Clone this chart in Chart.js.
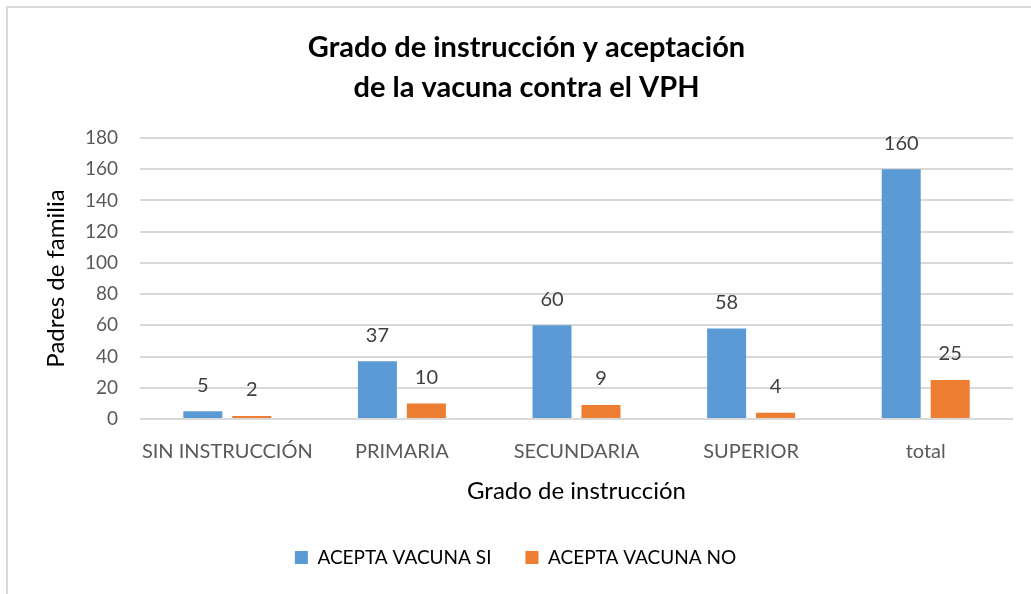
<!DOCTYPE html>
<html>
<head>
<meta charset="utf-8">
<script src="https://cdn.jsdelivr.net/npm/chart.js@4.4.1/dist/chart.umd.min.js"></script>
<style>
  html, body { margin: 0; padding: 0; background: #fff; }
  #wrap { position: relative; width: 1031px; height: 594px; overflow: hidden; }
  #frame { position: absolute; left: 6px; top: 6px; width: 1100px; height: 700px; border: 2px solid #d9d9d9; box-sizing: border-box; }
  #chart { position: absolute; left: 0; top: 0; }
</style>
</head>
<body>
<div id="wrap">
  <div id="frame"></div>
  <canvas id="chart" width="1031" height="594"></canvas>
</div>
<script>
// datos del gráfico
const categorias = ["SIN INSTRUCCIÓN", "PRIMARIA", "SECUNDARIA", "SUPERIOR", "total"];
const aceptaSi = [5, 37, 60, 58, 160];
const aceptaNo = [2, 10, 9, 4, 25];
const ticksY = [0, 20, 40, 60, 80, 100, 120, 140, 160, 180];

const FUENTE = "Lato, 'Open Sans', sans-serif";

// etiquetas de valor encima de cada barra
const etiquetasBarras = {
    id: "etiquetasBarras",
    afterDatasetsDraw(chart) {
        const ctx = chart.ctx;
        ctx.save();
        ctx.font = "20px " + FUENTE;
        ctx.fillStyle = "#404040";
        ctx.textAlign = "center";
        ctx.textBaseline = "middle";
        chart.data.datasets.forEach((ds, i) => {
            chart.getDatasetMeta(i).data.forEach((bar, j) => {
                ctx.fillText(String(ds.data[j]), bar.x, bar.y - 26);
            });
        });
        ctx.restore();
    }
};

// la leyenda queda un poco más a la izquierda que el título
const moverLeyenda = {
    id: "moverLeyenda",
    afterLayout(chart) {
        if (chart.legend) {
            chart.legend.left -= 22;
        }
    }
};

new Chart(document.getElementById("chart"), {
    type: "bar",
    data: {
        labels: categorias,
        datasets: [
            { label: "ACEPTA VACUNA SI", data: aceptaSi, backgroundColor: "#5B9BD5", categoryPercentage: 0.561, barPercentage: 0.796 },
            { label: "ACEPTA VACUNA NO", data: aceptaNo, backgroundColor: "#ED7D31", categoryPercentage: 0.561, barPercentage: 0.796 }
        ]
    },
    options: {
        responsive: false,
        animation: false,
        layout: { padding: { left: 40, right: 18, top: 0, bottom: 17 } },
        plugins: {
            title: {
                display: true,
                text: ["Grado de instrucción y aceptación", "de la vacuna contra el VPH"],
                color: "#000",
                font: { family: FUENTE, size: 29, weight: "bold", lineHeight: 1.38 },
                padding: { top: 28, bottom: 30 }
            },
            legend: {
                position: "bottom",
                labels: {
                    color: "#000",
                    font: { family: FUENTE, size: 19 },
                    boxWidth: 13,
                    boxHeight: 13,
                    padding: 34
                }
            },
            tooltip: { enabled: false }
        },
        scales: {
            x: {
                grid: { display: false },
                border: { display: false },
                ticks: { color: "#595959", font: { family: FUENTE, size: 20 }, padding: 13, maxRotation: 0 },
                title: {
                    display: true,
                    text: "Grado de instrucción",
                    color: "#000",
                    font: { family: FUENTE, size: 24 },
                    padding: { top: 0, bottom: 8 }
                },
                afterFit(scale) { scale.height = 95; }
            },
            y: {
                min: 0,
                max: 180,
                afterBuildTicks(scale) { scale.ticks = ticksY.map(v => ({ value: v })); },
                grid: { color: "#d9d9d9", lineWidth: 2, drawTicks: false },
                border: { display: false },
                ticks: { color: "#595959", font: { family: FUENTE, size: 19 }, padding: 22 },
                title: {
                    display: true,
                    text: "Padres de familia",
                    color: "#000",
                    font: { family: FUENTE, size: 24 },
                    padding: { top: 2, bottom: 0 }
                },
                afterFit(scale) { scale.width = 100; }
            }
        }
    },
    plugins: [etiquetasBarras, moverLeyenda]
});
</script>
</body>
</html>
